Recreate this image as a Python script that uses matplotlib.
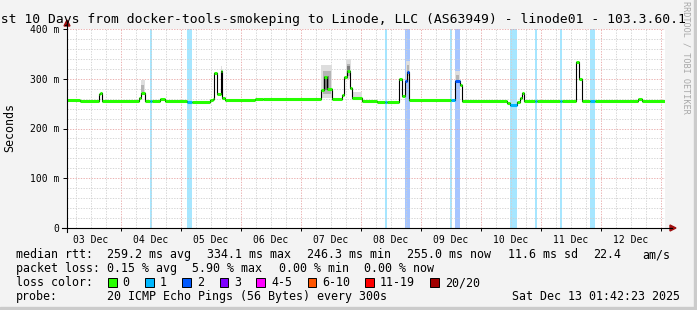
import numpy as np
import matplotlib
matplotlib.use('Agg')
import matplotlib.pyplot as plt
from matplotlib.lines import Line2D
from matplotlib.patches import Polygon, Rectangle
from matplotlib.ticker import MultipleLocator, FuncFormatter
from matplotlib.colors import to_rgb

W, H = 697, 310

# time axis: days since 03 Dec 00:00, rtt in ms
t_end = 10.071
seg_t = [0.071, 0.317, 0.633, 0.658, 0.683, 1.300, 1.333, 1.392, 1.483, 1.517,
         1.650, 1.733, 2.100, 2.183, 2.483, 2.533, 2.555, 2.600, 2.662, 2.678,
         2.733, 3.233, 3.367, 4.333, 4.383, 4.433, 4.512, 4.678, 4.722, 4.767,
         4.817, 4.845, 5.017, 5.267, 5.400, 5.433, 5.633, 5.688, 5.733, 5.767,
         5.805, 6.500, 6.567, 6.650, 6.678, 7.433, 7.483, 7.600, 7.650, 7.678,
         7.722, 7.900, 7.933, 8.317, 8.350, 8.578, 8.638, 8.678, 8.817, 8.900,
         9.617, 9.683]
seg_rtt = [257, 255, 269, 272, 256, 261, 272, 256, 256, 256,
           259, 256, 254, 253, 257, 260, 311, 269, 316, 262,
           258, 260, 259, 277, 304, 279, 259, 267, 304, 316,
           282, 261, 256, 254, 254, 254, 300, 266, 295, 313,
           258, 258, 295, 287, 255, 251, 247, 254, 261, 271,
           255, 255, 255, 255, 255, 334, 300, 255, 255, 256,
           260, 256]
seg_loss = [0, 0, 0, 0, 0, 0, 0, 0, 1, 0,
            0, 0, 1, 0, 0, 0, 0, 0, 0, 0,
            0, 0, 0, 0, 0, 0, 0, 0, 0, 0,
            0, 0, 0, 0, 1, 0, 0, 0, 2, 2,
            0, 1, 2, 0, 0, 0, 1, 0, 0, 0,
            0, 1, 0, 1, 0, 0, 0, 0, 1, 0,
            0, 0]

# packet loss background bands
band_t0 = [1.483, 2.100, 5.400, 5.733, 6.483, 6.567, 7.483, 7.900, 8.317, 8.817]
band_t1 = [1.517, 2.183, 5.433, 5.817, 6.517, 6.650, 7.600, 7.933, 8.350, 8.900]
band_loss = [1, 1, 1, 2, 1, 2, 1, 1, 1, 1]

# smoke (spread of the individual pings), light / mid / dark layers
light_t0 = [1.333, 2.662, 4.333, 4.745, 4.845, 5.745, 6.567]
light_t1 = [1.392, 2.690, 4.520, 4.830, 5.017, 5.810, 6.650]
light_lo = [272, 316, 262, 300, 261, 300, 295]
light_hi = [298, 326, 328, 340, 274, 336, 316]
mid_t0 = [1.340, 4.360, 4.767, 5.767, 6.580]
mid_t1 = [1.385, 4.500, 4.817, 5.805, 6.630]
mid_lo = [274, 270, 305, 305, 296]
mid_hi = [288, 315, 330, 328, 308]
dark_t0 = [4.380, 4.770]
dark_t1 = [4.460, 4.810]
dark_lo = [278, 314]
dark_hi = [305, 325]

day_labels = ['03 Dec', '04 Dec', '05 Dec', '06 Dec', '07 Dec',
              '08 Dec', '09 Dec', '10 Dec', '11 Dec', '12 Dec']
y_labels = {0: '0', 100: '100 m', 200: '200 m', 300: '300 m', 400: '400 m'}

loss_names = ['0', '1', '2', '3', '4-5', '6-10', '11-19', '20/20']
loss_colors = ['#26ff00', '#00b8ff', '#0059ff', '#7e00ff', '#ff00ff',
               '#ff5500', '#ff0000', '#a10000']

rtt_stats = ['259.2 ms avg', '334.1 ms max', '246.3 ms min', '255.0 ms now',
             '11.6 ms sd', '22.4']
loss_stats = ['0.15 % avg', '5.90 % max', '0.00 % min', '0.00 % now']


def fx(x):
    return x / W


def fy(y):
    return 1 - y / H


def pale(c, a=0.35):
    r = np.array(to_rgb(c))
    return tuple(1 - a + a * r)


plt.rcParams['font.family'] = ['DejaVu Sans Mono']

fig = plt.figure(figsize=(W / 100, H / 100), dpi=100, facecolor='#f3f3f3')
ax = fig.add_axes([fx(67), fy(228), (665 - 67) / W, (228 - 29) / H])
ax.set_facecolor('white')
ax.set_xlim(0.1, 10.067)
ax.set_ylim(0, 400)
for s in ax.spines.values():
    s.set_visible(False)

# grid
ax.xaxis.set_major_locator(MultipleLocator(1))
ax.xaxis.set_minor_locator(MultipleLocator(0.25))
ax.yaxis.set_major_locator(MultipleLocator(100))
ax.yaxis.set_minor_locator(MultipleLocator(20))
ax.grid(True, which='minor', color='#cfcfcf', lw=0.6, ls=(0, (1.6, 1.6)), zorder=1)
ax.grid(True, which='major', color='#e8a4a4', lw=0.6, ls=(0, (1.6, 1.6)), zorder=1)
ax.set_axisbelow(True)


def xlab(x, pos):
    k = x - 0.5
    i = int(round(k))
    if abs(k - i) < 1e-6 and 0 <= i < len(day_labels):
        return day_labels[i]
    return ''


ax.xaxis.set_major_formatter(FuncFormatter(lambda x, p: ''))
ax.xaxis.set_minor_formatter(FuncFormatter(xlab))
ax.yaxis.set_major_formatter(FuncFormatter(lambda v, p: y_labels.get(int(round(v)), '')))
ax.tick_params(axis='x', which='major', length=2, width=0.7, color='black')
ax.tick_params(axis='x', which='minor', length=0, pad=5, labelsize=7)
ax.tick_params(axis='y', which='major', length=3, width=0.7, pad=2.5, labelsize=7)
ax.tick_params(axis='y', which='minor', length=0)

# loss bands
for a, b, l in zip(band_t0, band_t1, band_loss):
    ax.axvspan(a, b, color=pale(loss_colors[l]), lw=0, zorder=0.5)

# smoke
for t0, t1, lo, hi, c in [(light_t0, light_t1, light_lo, light_hi, '#dedede'),
                          (mid_t0, mid_t1, mid_lo, mid_hi, '#b4b4b4'),
                          (dark_t0, dark_t1, dark_lo, dark_hi, '#7c7c7c')]:
    ax.bar(t0, np.subtract(hi, lo), bottom=lo, width=np.subtract(t1, t0),
           align='edge', color=c, lw=0, zorder=2)

# median rtt
tt = np.append(seg_t, t_end)
vv = np.append(seg_rtt, seg_rtt[-1])
ax.step(tt, vv, where='post', color='black', lw=0.8, zorder=3)
ax.hlines(seg_rtt, tt[:-1], tt[1:], colors=[loss_colors[l] for l in seg_loss],
          lw=2.2, zorder=4, capstyle='butt')

# axis lines + arrows
fig.add_artist(Line2D([fx(62), fx(672)], [fy(228), fy(228)], color='black', lw=0.8))
fig.add_artist(Line2D([fx(67), fx(67)], [fy(232), fy(24)], color='black', lw=0.8))
fig.add_artist(Polygon([(fx(676), fy(228)), (fx(670), fy(225)), (fx(670), fy(231))],
                       closed=True, color='#a01010', transform=fig.transFigure))
fig.add_artist(Polygon([(fx(67), fy(20)), (fx(64), fy(26)), (fx(70), fy(26))],
                       closed=True, color='#a01010', transform=fig.transFigure))

# frame shading
fig.add_artist(Rectangle((0, 0), 1, 3 / H, color='#cbcbcb', transform=fig.transFigure))
fig.add_artist(Rectangle((fx(694), 0), 3 / W, 1, color='#cbcbcb', transform=fig.transFigure))

# title and labels (title is wider than the image, as in rrdtool)
fig.text(fx(-14.6), fy(23.5), 'Last 10 Days from docker-tools-smokeping to Linode, LLC (AS63949) - linode01 - 103.3.60.1',
         fontsize=9.35, ha='left', va='baseline')
fig.text(fx(10), fy(127), 'Seconds', rotation=90, ha='center', va='center', fontsize=8.4)
fig.text(fx(686), fy(1), 'RRDTOOL / TOBI OETIKER', rotation=-90, ha='center', va='top',
         fontsize=6.1, color='#a8a8a8')

fs = 8.4
fig.text(fx(16), fy(258), 'median rtt:', fontsize=fs, va='baseline')
for x, s in zip([107, 207, 307, 407, 508, 593], rtt_stats):
    fig.text(fx(x), fy(258), s, fontsize=fs, va='baseline')
fig.text(fx(642), fy(258), 'am/s', fontsize=fs, va='baseline')

fig.text(fx(16), fy(272), 'packet loss:', fontsize=fs, va='baseline')
for x, s in zip([107, 192, 279, 364], loss_stats):
    fig.text(fx(x), fy(272), s, fontsize=fs, va='baseline')

fig.text(fx(16), fy(286), 'loss color:', fontsize=fs, va='baseline')
for x, name, c in zip([108, 145.3, 182.2, 219.6, 256.4, 307.6, 365.3, 430.2], loss_names, loss_colors):
    fig.add_artist(Rectangle((fx(x), fy(286.7)), 8.5 / W, 8.4 / H, facecolor=c,
                             edgecolor='black', lw=0.7, transform=fig.transFigure))
    fig.text(fx(x + 14.7), fy(286), name, fontsize=fs, va='baseline')

fig.text(fx(16), fy(300), 'probe:', fontsize=fs, va='baseline')
fig.text(fx(107), fy(300), '20 ICMP Echo Pings (56 Bytes) every 300s', fontsize=fs, va='baseline')
fig.text(fx(680), fy(300), 'Sat Dec 13 01:42:23 2025', fontsize=fs, va='baseline', ha='right')

fig.savefig('out.png', dpi=100, facecolor=fig.get_facecolor())
